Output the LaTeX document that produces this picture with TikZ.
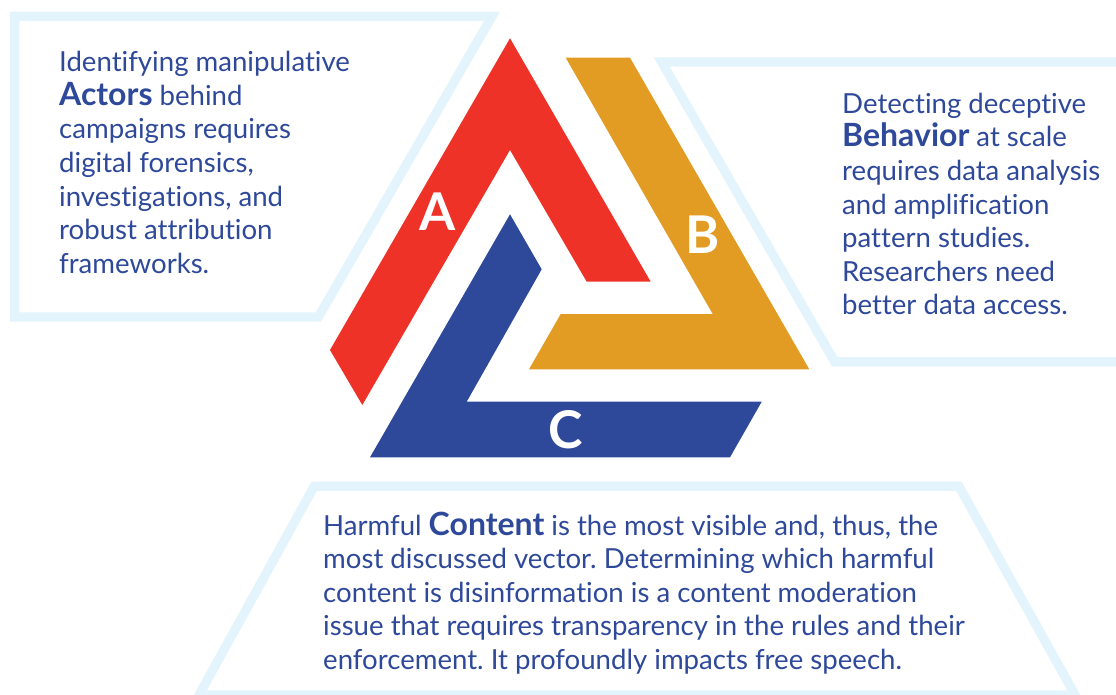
\documentclass[tikz,border=0pt]{standalone}
\usepackage{fontspec}
\setmainfont{Lato}[Ligatures=NoCommon]
\frenchspacing
\definecolor{actred}{HTML}{EE3227}
\definecolor{behorange}{HTML}{E29C24}
\definecolor{connavy}{HTML}{2E489A}
\definecolor{framesky}{HTML}{E4F4FC}
\newcommand{\keyword}[1]{{\fontsize{32}{33.6}\selectfont\bfseries #1}}

\begin{document}
\begin{tikzpicture}[x=1pt, y=-1pt,
  frame/.style={draw=framesky, line width=9.3pt, line join=miter},
  blurb/.style={anchor=north west, inner sep=0pt, align=left, text=connavy,
    font=\fontsize{27.6}{33.6}\selectfont},
  letter/.style={text=white, inner sep=0pt, font=\fontsize{52}{52}\selectfont\bfseries}]
  \useasboundingbox (0,0) rectangle (1116,694);
  \clip (0,0) rectangle (1116,694);
  % frames round the three texts
  \draw[frame] (14.7,16.3) -- (492,16.3) -- (318.4,317) -- (14.7,317) -- cycle;
  \draw[frame] (1130,62) -- (661.7,62) -- (834.7,361.7) -- (1130,361.7);
  \draw[frame] (199,695) -- (314.2,486.3) -- (958.9,486.3) -- (1075.1,695) -- cycle;
  % the three bars
  \fill[actred] (510,38.3) -- (650.7,281.7) -- (586.7,281.7) -- (510,150)
    -- (362.3,405) -- (330,350) -- cycle;
  \fill[behorange] (565.7,57.7) -- (630,57.7) -- (809.3,369.3) -- (529,369.3)
    -- (560.7,314) -- (712.7,314) -- cycle;
  \fill[connavy] (510,214.3) -- (541.7,269.3) -- (466.7,401.7) -- (761.7,401.7)
    -- (730,457.3) -- (370,457.3) -- cycle;
  \node[letter] (la) at (438,212) {A};
  \node[letter] (lb) at (702.7,235) {B};
  \node[letter] (lc) at (566,430) {C};
  % texts
  \node[blurb] (actors) at (59,51.2) {Identifying manipulative\\
    \keyword{Actors} behind\\campaigns requires\\digital forensics,\\
    investigations, and\\robust attribution\\frameworks.};
  \node[blurb] (behavior) at (842,92.8) {Detecting deceptive\\
    \keyword{Behavior} at scale\\requires data analysis\\and amplification\\
    pattern studies.\\Researchers need\\better data access.};
  \node[blurb] (content) at (323,511.5) {Harmful \keyword{Content} is the most visible and, thus, the\\
    most discussed vector. Determining which harmful\\
    content is disinformation is a content moderation\\
    issue that requires transparency in the rules and their\\
    enforcement. It profoundly impacts free speech.};
\end{tikzpicture}
\end{document}
